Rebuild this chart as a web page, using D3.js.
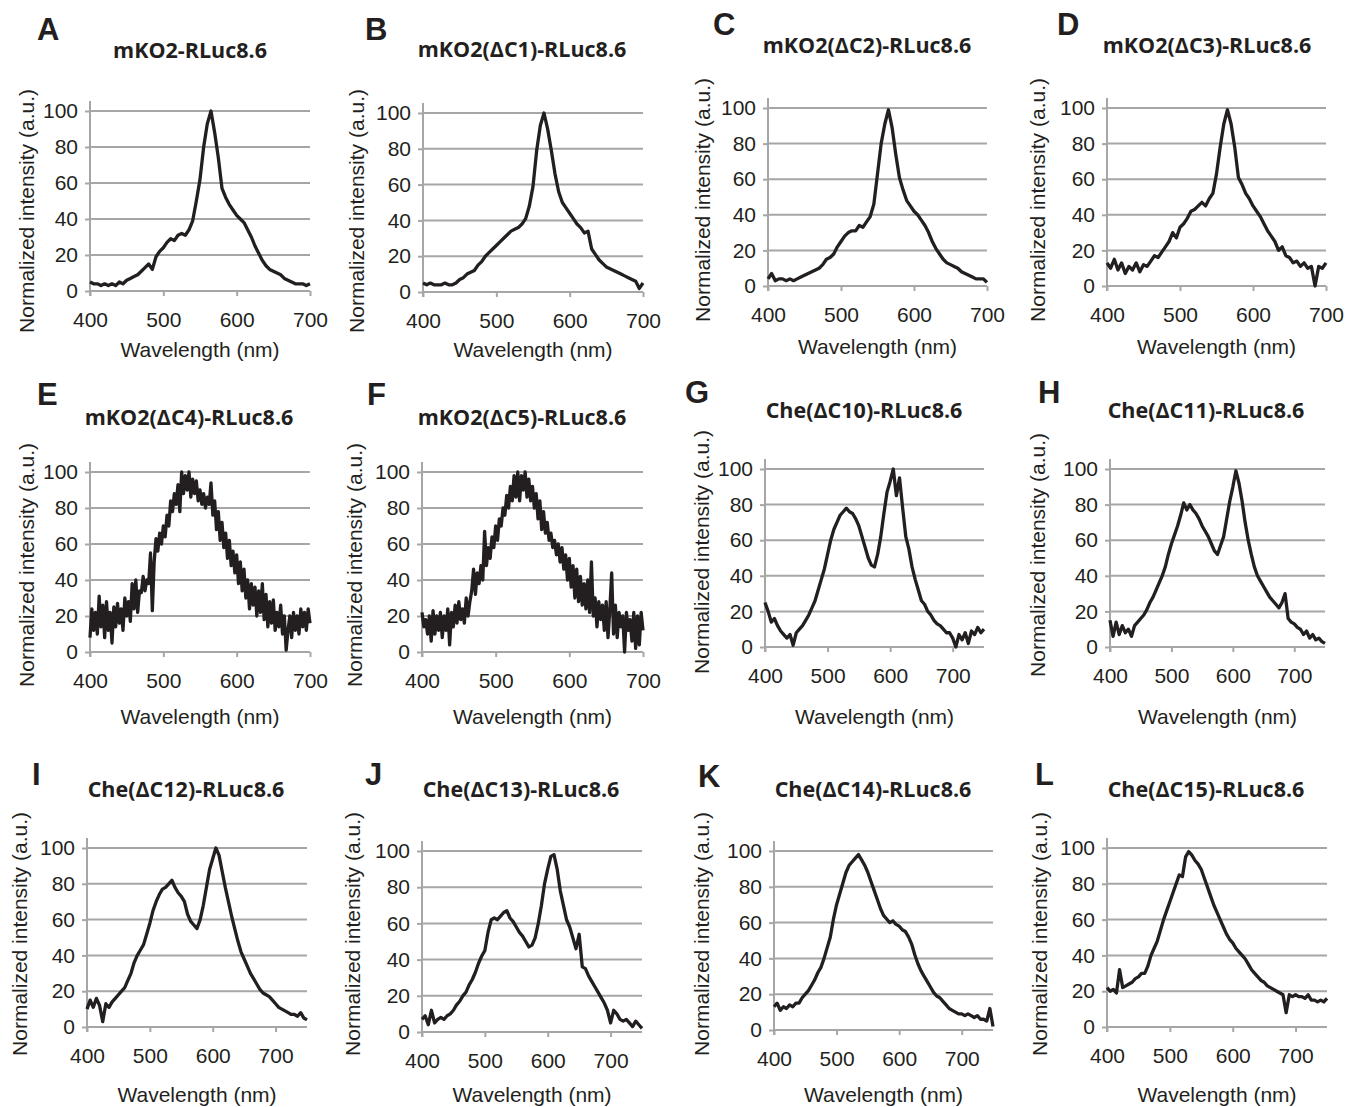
<!DOCTYPE html>
<html>
<head>
<meta charset="utf-8">
<script src="https://cdn.jsdelivr.net/npm/d3@7"></script>
<style>
body { margin: 0; background: #fff; }
text { fill: #231f20; }
</style>
</head>
<body>
<script>
var width = 1358,
    height = 1107;

var panelLetters = ["A", "B", "C", "D", "E", "F", "G", "H", "I", "J", "K", "L"];
var panelTitles = ["mKO2-RLuc8.6", "mKO2(ΔC1)-RLuc8.6", "mKO2(ΔC2)-RLuc8.6", "mKO2(ΔC3)-RLuc8.6",
    "mKO2(ΔC4)-RLuc8.6", "mKO2(ΔC5)-RLuc8.6", "Che(ΔC10)-RLuc8.6", "Che(ΔC11)-RLuc8.6",
    "Che(ΔC12)-RLuc8.6", "Che(ΔC13)-RLuc8.6", "Che(ΔC14)-RLuc8.6", "Che(ΔC15)-RLuc8.6"];
var xEnds = [700, 700, 700, 700, 700, 700, 750, 750, 750, 750, 750, 750];
var xTicks = [400, 500, 600, 700];
var yTicks = [0, 20, 40, 60, 80, 100];
var startNm = 400;
// sampling step (nm) of each spectrum; the two noisiest ones are read finer
var stepNm = [5, 5, 5, 5, 2.5, 2.5, 5, 5, 5, 5, 5, 5];

// normalized intensity
var specA = [5, 4, 4, 3, 4, 3, 4, 3, 5, 4,
    6, 7, 8, 9, 11, 13, 15, 12, 19, 22,
    24, 27, 29, 28, 31, 32, 31, 34, 39, 50,
    62, 80, 93, 100, 88, 74, 57, 52, 48, 45,
    42, 40, 38, 34, 30, 25, 21, 17, 14, 12,
    11, 10, 9, 7, 6, 5, 4, 4, 4, 3,
    4];
var specB = [5, 4, 5, 4, 4, 4, 5, 4, 4, 5,
    7, 8, 10, 11, 12, 15, 17, 20, 22, 24,
    26, 28, 30, 32, 34, 35, 36, 38, 41, 48,
    59, 79, 93, 100, 91, 79, 66, 56, 50, 47,
    44, 41, 38, 36, 33, 34, 24, 21, 18, 16,
    14, 13, 12, 11, 10, 9, 8, 7, 6, 2,
    5];
var specC = [4, 7, 3, 4, 4, 3, 4, 3, 4, 5,
    6, 7, 8, 9, 10, 12, 15, 16, 18, 22,
    25, 28, 30, 31, 31, 34, 33, 36, 39, 46,
    63, 80, 91, 99, 89, 74, 61, 54, 48, 45,
    42, 40, 37, 34, 30, 25, 21, 18, 15, 13,
    12, 11, 10, 8, 7, 6, 5, 4, 4, 4,
    2];
var specD = [13, 10, 15, 9, 13, 7, 11, 9, 13, 8,
    12, 11, 14, 17, 16, 19, 22, 25, 30, 27,
    33, 35, 38, 42, 43, 45, 47, 45, 49, 52,
    63, 78, 91, 99, 91, 78, 61, 57, 52, 49,
    45, 42, 39, 35, 31, 28, 25, 20, 22, 17,
    16, 13, 14, 11, 13, 10, 11, 0, 11, 10,
    13];
var specE = [8, 24, 12, 22, 10, 31, 14, 26, 8, 28,
    12, 22, 5, 25, 14, 27, 16, 24, 12, 30,
    20, 28, 17, 38, 24, 40, 22, 34, 33, 42,
    34, 40, 38, 55, 23, 50, 63, 56, 66, 60,
    70, 64, 76, 70, 84, 78, 88, 82, 93, 78,
    100, 88, 98, 90, 100, 86, 96, 88, 95, 84,
    90, 82, 88, 80, 86, 82, 94, 76, 84, 68,
    78, 62, 72, 58, 66, 52, 62, 48, 56, 44,
    54, 38, 50, 34, 46, 30, 40, 24, 38, 26,
    36, 20, 34, 22, 38, 18, 32, 14, 28, 16,
    29, 12, 22, 14, 26, 10, 20, 1, 12, 20,
    8, 22, 12, 20, 10, 24, 14, 22, 12, 24,
    16];
var specF = [22, 14, 18, 10, 20, 6, 23, 10, 20, 12,
    22, 8, 20, 12, 24, 4, 22, 14, 26, 16,
    28, 18, 24, 16, 30, 20, 28, 34, 46, 32,
    44, 38, 48, 40, 67, 48, 58, 52, 64, 58,
    70, 62, 74, 70, 80, 76, 87, 80, 92, 84,
    98, 86, 100, 84, 98, 90, 100, 86, 96, 84,
    92, 80, 88, 74, 84, 68, 78, 66, 72, 62,
    66, 58, 62, 54, 60, 50, 58, 46, 54, 40,
    52, 36, 48, 30, 46, 28, 42, 26, 38, 24,
    40, 22, 50, 20, 30, 14, 28, 18, 26, 12,
    28, 8, 24, 44, 10, 26, 8, 22, 14, 20,
    0, 22, 12, 18, 6, 22, 2, 20, 4, 22,
    12];
var specG = [25, 20, 14, 16, 12, 9, 7, 5, 7, 1,
    8, 10, 12, 15, 18, 22, 26, 32, 38, 44,
    52, 60, 66, 70, 74, 76, 78, 76, 75, 72,
    68, 62, 56, 50, 46, 45, 52, 62, 75, 87,
    93, 100, 85, 95, 78, 62, 55, 45, 38, 32,
    26, 24, 20, 18, 15, 13, 12, 10, 8, 8,
    5, 0, 7, 4, 8, 2, 9, 7, 11, 8,
    10];
var specH = [15, 6, 14, 7, 12, 8, 10, 6, 12, 14,
    16, 18, 21, 25, 28, 32, 36, 40, 45, 52,
    58, 63, 68, 74, 81, 77, 80, 77, 75, 72,
    68, 65, 62, 58, 54, 52, 57, 62, 72, 82,
    90, 99, 92, 82, 70, 60, 52, 45, 40, 37,
    34, 31, 28, 26, 24, 22, 25, 30, 16, 14,
    13, 11, 10, 7, 9, 5, 7, 4, 5, 3,
    2];
var specI = [10, 15, 11, 16, 12, 3, 13, 11, 14, 16,
    18, 20, 22, 26, 30, 36, 40, 43, 46, 52,
    58, 65, 70, 74, 77, 78, 80, 82, 78, 75,
    73, 70, 63, 59, 57, 55, 60, 68, 78, 88,
    94, 100, 96, 87, 78, 70, 62, 55, 48, 42,
    38, 34, 30, 27, 24, 21, 19, 18, 17, 15,
    13, 11, 10, 9, 8, 7, 7, 6, 8, 5,
    4];
var specJ = [7, 9, 4, 12, 5, 7, 8, 7, 9, 10,
    12, 15, 17, 20, 22, 26, 29, 33, 38, 42,
    45, 55, 62, 63, 62, 64, 66, 67, 63, 61,
    58, 55, 53, 50, 47, 48, 52, 60, 70, 82,
    90, 97, 98, 90, 78, 70, 62, 58, 52, 46,
    54, 36, 35, 31, 28, 25, 22, 19, 16, 12,
    5, 12, 10, 7, 6, 7, 5, 3, 6, 4,
    2];
var specK = [13, 15, 11, 13, 12, 14, 13, 15, 15, 18,
    20, 22, 25, 28, 32, 35, 40, 46, 52, 62,
    70, 76, 82, 88, 92, 94, 96, 98, 95, 92,
    88, 83, 78, 73, 68, 64, 62, 60, 61, 59,
    58, 56, 55, 52, 48, 42, 37, 33, 30, 27,
    24, 21, 19, 18, 16, 14, 12, 11, 10, 9,
    9, 8, 9, 8, 7, 8, 6, 6, 5, 12,
    2];
var specL = [22, 20, 21, 19, 32, 22, 23, 24, 25, 27,
    28, 30, 30, 34, 40, 44, 48, 54, 60, 65,
    70, 75, 80, 85, 84, 95, 98, 96, 93, 91,
    88, 83, 78, 73, 68, 64, 60, 56, 52, 49,
    47, 44, 42, 40, 38, 35, 32, 30, 28, 26,
    25, 23, 22, 21, 20, 19, 18, 8, 18, 17,
    18, 17, 17, 16, 18, 15, 15, 14, 15, 14,
    16];
var spectra = [specA, specB, specC, specD, specE, specF, specG, specH, specI, specJ, specK, specL];

// plot boxes: left axis x, right end x, y of 100, y of 0
var boxes = [
    [90, 310, 111, 291], [423, 643, 113, 292], [768, 987, 108, 286], [1107, 1326, 108, 286],
    [90, 310, 472, 652], [422, 643, 472, 652], [765, 984, 469, 647], [1110, 1325, 469, 647],
    [87, 307, 848, 1027], [422, 642, 851, 1032], [774, 993, 851, 1030], [1107, 1327, 848, 1027]
];
// letter x, letter baseline, title centre x, title baseline, y-label x, y-label y, x-label y
var labelPos = [
    [37, 40, 190, 58, 27, 211, 350], [365, 40, 522, 57, 357, 211, 350],
    [713, 35, 867, 53, 703, 200, 347], [1057, 35, 1207, 53, 1038, 200, 347],
    [37, 405, 189, 425, 27, 565, 717], [367, 405, 522, 425, 355, 565, 717],
    [685, 403, 864, 418, 702, 552, 717], [1038, 403, 1206, 418, 1038, 555, 717],
    [32, 785, 186, 797, 20, 934, 1095], [365, 785, 521, 797, 353, 934, 1095],
    [698, 787, 873, 797, 702, 934, 1095], [1035, 785, 1206, 797, 1040, 934, 1095]
];

var gridColor = "#a6a6a6",
    ink = "#231f20";

var svg = d3.select("body").append("svg")
    .attr("width", width)
    .attr("height", height)
    .style("font-family", "'Liberation Sans', Arial, sans-serif");

spectra.forEach(function (spec, p) {
    var b = boxes[p], lp = labelPos[p];
    var x = d3.scaleLinear().domain([startNm, xEnds[p]]).range([b[0], b[1]]);
    var y = d3.scaleLinear().domain([0, 100]).range([b[3], b[2]]);
    var g = svg.append("g");

    // gridlines
    g.selectAll("line.grid")
        .data(yTicks)
        .enter().append("line")
        .attr("class", "grid")
        .attr("x1", b[0]).attr("x2", b[1])
        .attr("y1", function (d) { return y(d); })
        .attr("y2", function (d) { return y(d); })
        .attr("stroke", gridColor)
        .attr("stroke-width", 2);

    // vertical axis line, a bit taller than the plot like Excel does
    g.append("line")
        .attr("x1", b[0]).attr("x2", b[0])
        .attr("y1", b[2] - 10).attr("y2", b[3] + 5)
        .attr("stroke", gridColor)
        .attr("stroke-width", 2);

    var yAxis = g.append("g")
        .attr("transform", "translate(" + b[0] + ",0)")
        .call(d3.axisLeft(y).tickValues(yTicks).tickSize(5).tickPadding(7));
    var xAxis = g.append("g")
        .attr("transform", "translate(0," + b[3] + ")")
        .call(d3.axisBottom(x).tickValues(xTicks).tickSize(5).tickPadding(16));
    [yAxis, xAxis].forEach(function (ax) {
        ax.select(".domain").remove();
        ax.selectAll(".tick line").attr("stroke", gridColor).attr("stroke-width", 2);
        ax.selectAll(".tick text")
            .attr("fill", ink)
            .style("font-family", "'Liberation Sans', Arial, sans-serif")
            .style("font-size", "21px");
    });

    var line = d3.line()
        .x(function (d, i) { return x(startNm + i * stepNm[p]); })
        .y(function (d) { return y(d); });
    g.append("path")
        .attr("d", line(spec))
        .attr("fill", "none")
        .attr("stroke", ink)
        .attr("stroke-width", 3.3)
        .attr("stroke-linejoin", "round");

    g.append("text")
        .text(panelLetters[p])
        .attr("x", lp[0]).attr("y", lp[1])
        .style("font-size", "31px")
        .style("font-weight", "bold");

    g.append("text")
        .text(panelTitles[p])
        .attr("x", lp[2]).attr("y", lp[3])
        .attr("text-anchor", "middle")
        .style("font-family", "'Open Sans', sans-serif")
        .style("font-size", "21.5px")
        .style("font-weight", "bold");

    g.append("text")
        .text("Normalized intensity (a.u.)")
        .attr("text-anchor", "middle")
        .attr("dy", "0.35em")
        .attr("transform", "translate(" + lp[4] + "," + lp[5] + ") rotate(-90)")
        .style("font-size", "21px");

    g.append("text")
        .text("Wavelength (nm)")
        .attr("x", (b[0] + b[1]) / 2)
        .attr("y", lp[6])
        .attr("dy", "0.35em")
        .attr("text-anchor", "middle")
        .style("font-size", "21px");
});
</script>
</body>
</html>
